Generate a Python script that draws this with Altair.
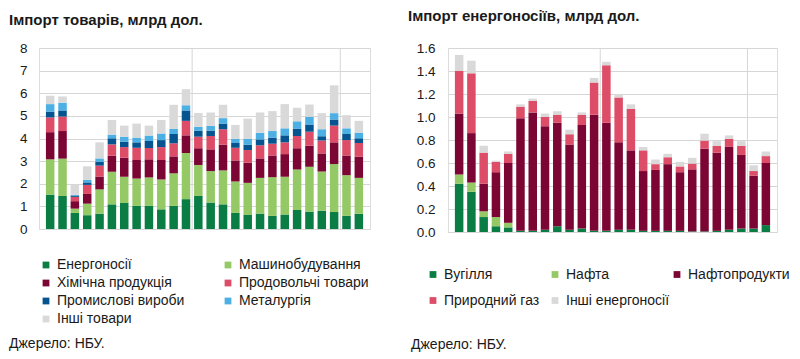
import altair as alt
import pandas as pd

FONT = "Liberation Sans"

months = ["01.22", "02.22", "03.22", "04.22", "05.22", "06.22", "07.22", "08.22", "09.22",
          "10.22", "11.22", "12.22", "01.23", "02.23", "03.23", "04.23", "05.23", "06.23",
          "07.23", "08.23", "09.23", "10.23", "11.23", "12.23", "01.24", "02.24"]
tick_months = ["01.22", "07.22", "01.23", "07.23", "02.24"]
year_breaks = [11.5, 23.5]

# ---- Import of goods, bn USD ----
goods_names = ["Енергоносії", "Машинобудування", "Хімічна продукція", "Продовольчі товари",
               "Промислові вироби", "Металургія", "Інші товари"]
goods_colors = ["#0a7d45", "#95c965", "#7b0533", "#dd4d67", "#06548f", "#4cb0e4", "#d9d9d9"]
g_energy = [1.52, 1.46, 0.71, 0.61, 0.68, 1.09, 1.15, 1.02, 1.02, 0.87, 1.02, 1.32, 1.46,
            1.17, 1.09, 0.71, 0.62, 0.68, 0.58, 0.64, 0.84, 0.77, 0.81, 0.75, 0.58, 0.67]
g_machinery = [1.56, 1.65, 0.19, 0.51, 1.07, 1.44, 1.16, 1.21, 1.26, 1.32, 1.44, 2.04, 1.37,
               1.39, 1.50, 1.39, 1.42, 1.58, 1.71, 1.67, 1.79, 1.98, 1.73, 2.12, 1.80, 1.59]
g_chemical = [1.20, 1.22, 0.33, 0.43, 0.57, 0.71, 0.84, 0.82, 0.80, 0.86, 0.75, 0.78, 0.74,
              0.96, 1.14, 0.93, 0.89, 0.86, 0.96, 1.00, 0.94, 0.93, 0.80, 0.96, 0.87, 0.94]
g_food = [0.65, 0.64, 0.19, 0.40, 0.48, 0.50, 0.47, 0.54, 0.50, 0.57, 0.58, 0.64, 0.51,
          0.59, 0.68, 0.56, 0.56, 0.58, 0.52, 0.52, 0.54, 0.62, 0.57, 0.74, 0.68, 0.60]
g_industrial = [0.26, 0.27, 0.06, 0.11, 0.17, 0.27, 0.24, 0.24, 0.31, 0.31, 0.41, 0.46, 0.27,
                0.24, 0.25, 0.21, 0.24, 0.26, 0.27, 0.31, 0.33, 0.32, 0.19, 0.27, 0.27, 0.21]
g_metallurgy = [0.33, 0.34, 0.03, 0.11, 0.15, 0.16, 0.22, 0.21, 0.24, 0.29, 0.22, 0.23, 0.16,
                0.21, 0.24, 0.19, 0.26, 0.29, 0.29, 0.31, 0.32, 0.34, 0.31, 0.28, 0.25, 0.25]
g_other = [0.37, 0.28, 0.47, 0.60, 0.71, 0.65, 0.49, 0.62, 0.44, 0.60, 1.07, 0.71, 0.62,
           0.59, 0.59, 0.61, 0.89, 0.90, 0.88, 1.07, 0.60, 0.54, 0.71, 1.23, 0.58, 0.52]

# ---- Import of energy, bn USD ----
energy_names = ["Вугілля", "Нафта", "Нафтопродукти", "Природний газ", "Інші енергоносії"]
energy_colors = ["#0a7d45", "#95c965", "#7b0533", "#dd4d67", "#d9d9d9"]
e_coal = [0.42, 0.35, 0.13, 0.05, 0.04, 0.01, 0.01, 0.02, 0.05, 0.02, 0.03, 0.01, 0.01,
          0.02, 0.02, 0.01, 0.01, 0.01, 0.01, 0.005, 0.005, 0.01, 0.02, 0.03, 0.03, 0.06]
e_oil = [0.08, 0.08, 0.05, 0.08, 0.04, 0.0, 0.0, 0.0, 0.0, 0.0, 0.0, 0.0, 0.0,
         0.0, 0.0, 0.0, 0.0, 0.0, 0.0, 0.0, 0.0, 0.0, 0.0, 0.0, 0.0, 0.0]
e_products = [0.53, 0.43, 0.24, 0.39, 0.52, 0.98, 1.03, 0.90, 0.90, 0.74, 0.90, 1.01, 0.94,
              0.76, 0.69, 0.52, 0.53, 0.58, 0.51, 0.54, 0.72, 0.68, 0.72, 0.64, 0.46, 0.54]
e_gas = [0.37, 0.52, 0.27, 0.09, 0.08, 0.10, 0.10, 0.08, 0.07, 0.09, 0.09, 0.28, 0.50,
         0.39, 0.36, 0.18, 0.05, 0.06, 0.05, 0.05, 0.07, 0.06, 0.07, 0.08, 0.04, 0.06]
e_other = [0.14, 0.11, 0.06, 0.01, 0.02, 0.02, 0.02, 0.03, 0.03, 0.04, 0.02, 0.04, 0.03,
           0.03, 0.04, 0.03, 0.04, 0.03, 0.04, 0.05, 0.06, 0.04, 0.03, 0.04, 0.05, 0.04]

goods_series = [g_energy, g_machinery, g_chemical, g_food, g_industrial, g_metallurgy, g_other]
energy_series = [e_coal, e_oil, e_products, e_gas, e_other]


def long_df(names, series):
    rows = []
    for k, (name, vals) in enumerate(zip(names, series)):
        for i, v in enumerate(vals):
            rows.append({"idx": i, "month": months[i], "cat": name, "val": v, "ord": k})
    return pd.DataFrame(rows)


tick_idx = [months.index(m) for m in tick_months]
label_expr = " : ".join(
    [f"datum.value == {i} ? '{m}'" for i, m in zip(tick_idx, tick_months)]) + " : ''"

TXT = "#1a1a1a"


def panel(df, names, colors, ymax, yvals, yfmt, title, W, H, title_dx, title_off,
          src_x, src_y, xlab_pad, ylab_pad, leg_x, leg_y, leg_cols, leg_colpad,
          leg_rowpad, leg_align):
    xscale = alt.Scale(domain=[-0.5, 25.5], nice=False, zero=False)
    x = alt.X("idx:Q", scale=xscale,
              axis=alt.Axis(values=tick_idx, labelExpr=label_expr, grid=False, ticks=False,
                            domain=False, title=None, labelPadding=xlab_pad,
                            labelFontSize=13.5, labelColor=TXT, labelFont=FONT,
                            labelBaseline="top"))
    y = alt.Y("val:Q", stack="zero", scale=alt.Scale(domain=[0, ymax], nice=False),
              axis=alt.Axis(values=yvals, format=yfmt, grid=True, gridColor="#d6d6d6",
                            gridWidth=1, ticks=False, domain=False, title=None,
                            labelPadding=ylab_pad, labelFontSize=13.5, labelColor=TXT,
                            labelFont=FONT))
    bars = alt.Chart(df).mark_bar(size=8.5).encode(
        x=x, y=y,
        color=alt.Color("cat:N", scale=alt.Scale(domain=names, range=colors),
                        legend=alt.Legend(title=None, orient="none", legendX=leg_x,
                                          legendY=leg_y, columns=leg_cols,
                                          direction="horizontal",
                                          symbolType="square", symbolSize=46,
                                          symbolStrokeWidth=0, labelFontSize=14,
                                          labelFont=FONT, labelColor=TXT, labelOffset=4,
                                          columnPadding=leg_colpad, rowPadding=leg_rowpad,
                                          gridAlign=leg_align, padding=0)),
        order=alt.Order("ord:Q", sort="ascending"),
    )
    breaks = alt.Chart(pd.DataFrame({"b": year_breaks})).mark_rule(
        color="#d6d6d6", strokeWidth=1).encode(
        x=alt.X("b:Q", scale=xscale, axis=None))
    src = alt.Chart(pd.DataFrame({"t": ["Джерело: НБУ."]})).mark_text(
        align="left", baseline="middle", fontSize=14, font=FONT, color=TXT).encode(
        x=alt.value(src_x), y=alt.value(src_y), text="t:N")
    return alt.layer(breaks, bars, src).properties(
        width=W, height=H,
        title=alt.TitleParams(title, anchor="start", frame="group", dx=title_dx,
                              fontSize=15, fontWeight="bold", font=FONT, color=TXT,
                              offset=title_off))


goods_df = long_df(goods_names, goods_series)
energy_df = long_df(energy_names, energy_series)

left = panel(goods_df, goods_names, goods_colors, 8, [0, 1, 2, 3, 4, 5, 6, 7, 8], "d",
             "Імпорт товарів, млрд дол.", 331, 181, -30, 13.5, -30, 296, 13, 12,
             0, 210, 2, 34, 4, "all")
right = panel(energy_df, energy_names, energy_colors, 1.6,
              [0, 0.2, 0.4, 0.6, 0.8, 1.0, 1.2, 1.4, 1.6], ".1f",
              "Імпорт енергоносіїв, млрд дол.", 329, 184, -40, 17, -37, 296.5, 12, 13,
              -22, 219.5, 3, 0, 12, "all")

chart = alt.hconcat(left, right, spacing=36).resolve_scale(
    color="independent", x="independent", y="independent").resolve_legend(
    color="independent").properties(padding=0).configure_view(
    stroke="#808080", strokeWidth=1.5).configure(font=FONT)

chart.save("out.html", embed_options={"renderer": "svg", "actions": False})
